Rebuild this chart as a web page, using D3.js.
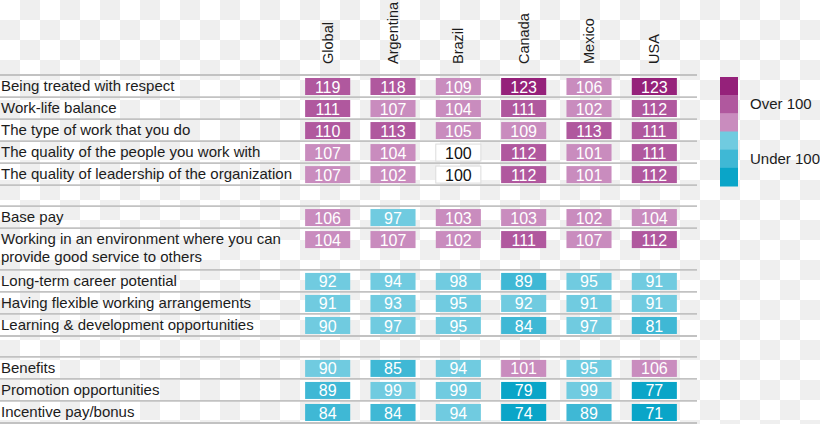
<!DOCTYPE html>
<html><head><meta charset="utf-8">
<script src="https://cdn.jsdelivr.net/npm/d3@7/dist/d3.min.js"></script>
<style>body{margin:0;background:#fff}svg{display:block}text{font-family:"Liberation Sans",Arial,sans-serif}</style>
</head><body>
<svg id="chart" width="820" height="424"></svg>
<script>
const countries = ["Global","Argentina","Brazil","Canada","Mexico","USA"];
const factors = [
  "Being treated with respect",
  "Work-life balance",
  "The type of work that you do",
  "The quality of the people you work with",
  "The quality of leadership of the organization",
  "Base pay",
  "Working in an environment where you can\nprovide good service to others",
  "Long-term career potential",
  "Having flexible working arrangements",
  "Learning & development opportunities",
  "Benefits",
  "Promotion opportunities",
  "Incentive pay/bonus"
];
const groupOf = [0,0,0,0,0,1,1,1,1,1,2,2,2];
const globalVals    = [119,111,110,107,107,106,104,92,91,90,90,89,84];
const argentinaVals = [118,107,113,104,102,97,107,94,93,97,85,99,84];
const brazilVals    = [109,104,105,100,100,103,102,98,95,95,94,99,94];
const canadaVals    = [123,111,109,112,112,103,111,89,92,84,101,79,74];
const mexicoVals    = [106,102,113,101,101,102,107,95,91,97,95,99,89];
const usaVals       = [123,112,111,111,112,104,112,91,91,81,106,77,71];
const seriesVals = [globalVals, argentinaVals, brazilVals, canadaVals, mexicoVals, usaVals];
const legendLabels = ["Over 100","Under 100"];
const thresholds = [80,90,100,101,110,120];

const palette = ["#0aa5c8","#3fb8d5","#70cbe0","#ffffff","#c98cbe","#b0589e","#95217a"];
const color = d3.scaleThreshold().domain(thresholds).range(palette);

const svg = d3.select("#chart");

// checkerboard background
const defs = svg.append("defs");
const pat = defs.append("pattern").attr("id","chk").attr("width",40).attr("height",40).attr("patternUnits","userSpaceOnUse");
pat.append("rect").attr("width",40).attr("height",40).attr("fill","#ffffff");
pat.append("rect").attr("x",20).attr("y",0).attr("width",20).attr("height",20).attr("fill","#efefef");
pat.append("rect").attr("x",0).attr("y",20).attr("width",20).attr("height",20).attr("fill","#efefef");
svg.append("rect").attr("width",820).attr("height",424).attr("fill","url(#chk)");

// row layout (units)
const rows = [];
let u = 0;
factors.forEach((f,i)=>{
  if (i>0 && groupOf[i]!==groupOf[i-1]) u += 0.95;
  const h = f.includes("\n") ? 1.9 : 1;
  rows.push({label:f, i, start:u, h});
  u += h;
});
const y = d3.scaleLinear().domain([0,u]).range([75,423]);
const x = d3.scaleBand().domain(countries).range([295,687]).paddingInner(0.31).paddingOuter(0.155);

// separator lines
const lineYs = new Set();
rows.forEach(r=>{ lineYs.add(+y(r.start).toFixed(2)); lineYs.add(+y(r.start+r.h).toFixed(2)); });
svg.append("g").selectAll("line").data([...lineYs]).join("line")
  .attr("x1",0).attr("x2",697).attr("y1",d=>d).attr("y2",d=>d)
  .attr("stroke","#c2c2c2").attr("stroke-width",1.8);

// row labels
const lab = svg.append("g").selectAll("text").data(rows).join("text")
  .attr("x",1).attr("font-size",15).attr("fill","#1c1c1c");
lab.each(function(r){
  const parts = r.label.split("\n");
  const t = d3.select(this);
  parts.forEach((p,k)=>{
    t.append("tspan").attr("x",1).attr("y", y(r.start) + 11 + k*18).attr("dy","0.35em").text(p);
  });
});

// header labels
svg.append("g").selectAll("text").data(countries).join("text")
  .attr("transform",d=>`translate(${x(d)+x.bandwidth()/2},64) rotate(-90)`)
  .attr("dy","0.35em").attr("font-size",14.5).attr("fill","#1c1c1c")
  .attr("text-anchor","start").text(d=>d);

// cells
const cellData = [];
rows.forEach(r=>countries.forEach((c,ci)=>cellData.push({r, c, v: seriesVals[ci][r.i]})));
const cells = svg.append("g").selectAll("g").data(cellData).join("g")
  .attr("transform",d=>`translate(${x(d.c)},${y(d.r.start)+3})`);
cells.append("rect").attr("width",x.bandwidth()).attr("height",17)
  .attr("fill",d=>color(d.v))
  .attr("stroke",d=>d.v===100?"#dcdcdc":"none").attr("stroke-width",1);
cells.append("text").attr("x",x.bandwidth()/2).attr("y",8.8).attr("dy","0.36em")
  .attr("text-anchor","middle").attr("font-size",16)
  .attr("fill",d=>d.v===100?"#111":"#fff").text(d=>d.v);

// legend
const legendColors = palette.filter(c=>c!=="#ffffff").slice().reverse();
const ly = d3.scaleBand().domain(d3.range(legendColors.length)).range([77,186]);
svg.append("g").selectAll("rect").data(legendColors).join("rect")
  .attr("x",720).attr("width",18).attr("y",(d,i)=>ly(i)).attr("height",ly.bandwidth()+0.5)
  .attr("fill",d=>d);
svg.append("g").selectAll("text").data(legendLabels).join("text")
  .attr("x",750).attr("y",(d,i)=>i===0?104:159).attr("dy","0.35em")
  .attr("font-size",15).attr("fill","#1c1c1c").text(d=>d);
</script>
</body></html>
